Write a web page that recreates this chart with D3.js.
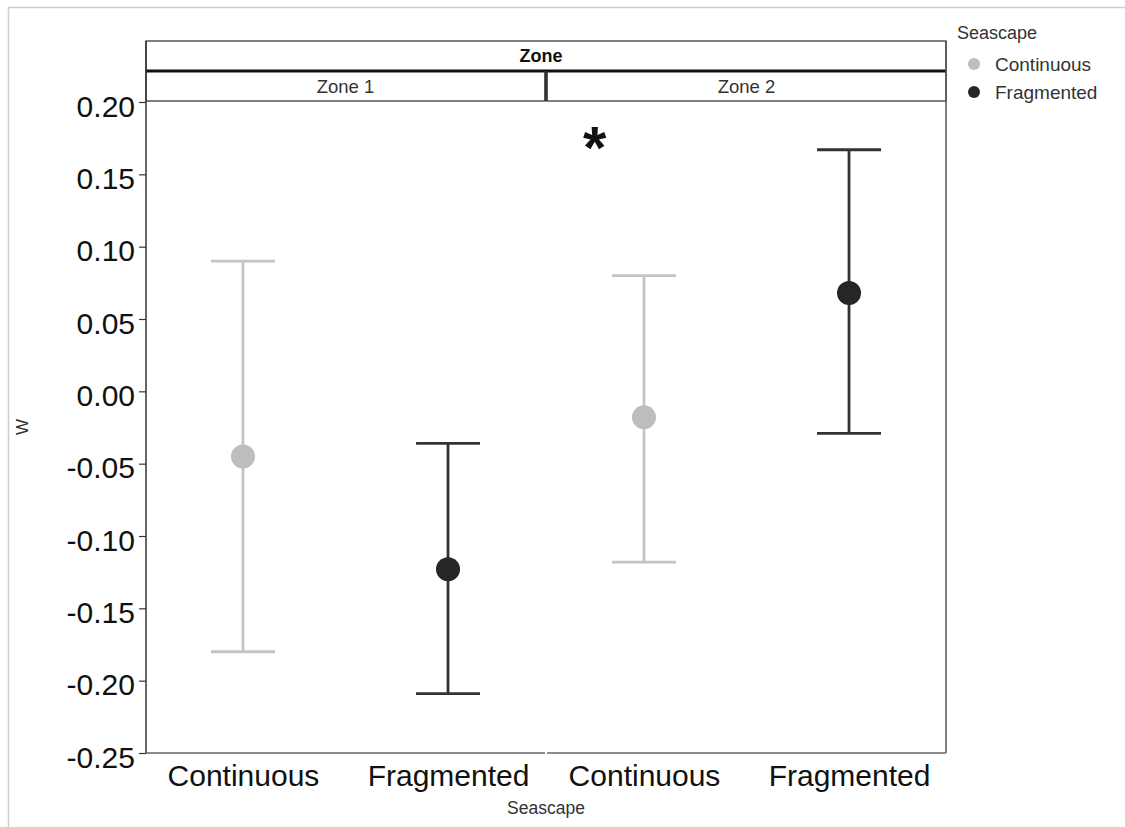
<!DOCTYPE html>
<html>
<head>
<meta charset="utf-8">
<script src="https://cdn.jsdelivr.net/npm/d3@7"></script>
<style>
  html, body { margin: 0; padding: 0; background: #fff; }
  svg { display: block; font-family: "Liberation Sans", Arial, sans-serif; }
</style>
</head>
<body>
<svg id="chart" width="1125" height="827"></svg>
<script>
// ---- data ----
const zones = ["Zone 1", "Zone 2"];
const categories = ["Continuous", "Fragmented"];
const meanValues = [-0.045, -0.123, -0.018, 0.068];   // Zone1 C, Zone1 F, Zone2 C, Zone2 F
const lowerValues = [-0.180, -0.209, -0.118, -0.029];
const upperValues = [0.090, -0.036, 0.080, 0.167];
const pointZones = ["Zone 1", "Zone 1", "Zone 2", "Zone 2"];
const pointCats = ["Continuous", "Fragmented", "Continuous", "Fragmented"];
const yTicks = [-0.25, -0.20, -0.15, -0.10, -0.05, 0.00, 0.05, 0.10, 0.15, 0.20];
const annotations = [{ zone: "Zone 2", pos: 0.76, value: 0.172, label: "*" }];

const colors = { "Continuous": "#bdbdbd", "Fragmented": "#262626" };
const lineColors = { "Continuous": "#c4c4c4", "Fragmented": "#333333" };

const points = meanValues.map((m, i) => ({
  zone: pointZones[i], cat: pointCats[i], mean: m, lo: lowerValues[i], hi: upperValues[i]
}));

// ---- layout ----
const svg = d3.select("#chart");
const plotLeft = 146, plotRight = 946, plotTop = 102, plotBottom = 753;
const stripTop = 41, stripMid = 71, stripBot = 101;

// outer frame
svg.append("rect").attr("x", 8.5).attr("y", 7.5).attr("width", 1130).attr("height", 830)
  .attr("fill", "none").attr("stroke", "#cfcfcf").attr("stroke-width", 1.5);

const y = d3.scaleLinear().domain([-0.25, 0.20]).range([plotBottom, plotTop]);
const panel = d3.scaleBand().domain(zones).range([plotLeft, plotRight]).paddingInner(2 / 800 * 2);
const pw = panel.bandwidth();
const pad = 0.473;
const x = d3.scalePoint().domain(categories).range([0, pw]).padding(pad);
const xLin = d3.scaleLinear().domain([1 - pad, 2 + pad]).range([0, pw]);

// strips
const g = svg.append("g");
g.append("rect").attr("x", plotLeft).attr("y", stripTop).attr("width", plotRight - plotLeft).attr("height", stripMid - stripTop)
  .attr("fill", "#fff").attr("stroke", "#555").attr("stroke-width", 1.5);
g.append("text").attr("x", (plotLeft + plotRight) / 2 - 5).attr("y", stripTop + 15).attr("dy", "0.35em")
  .attr("text-anchor", "middle").attr("font-size", 18).attr("font-weight", "bold").attr("fill", "#111").text("Zone");

zones.forEach(z => {
  const x0 = panel(z);
  g.append("rect").attr("x", x0).attr("y", stripMid).attr("width", pw).attr("height", stripBot - stripMid)
    .attr("fill", "#fff").attr("stroke", "#555").attr("stroke-width", 1.5);
  g.append("text").attr("x", x0 + pw / 2).attr("y", stripMid + 16).attr("dy", "0.35em")
    .attr("text-anchor", "middle").attr("font-size", 18.5).attr("fill", "#333").text(z);
});
// thick line under Zone strip
g.append("line").attr("x1", plotLeft).attr("x2", plotRight).attr("y1", stripMid).attr("y2", stripMid)
  .attr("stroke", "#111").attr("stroke-width", 3);
// separator between panels in strip
g.append("line").attr("x1", 546).attr("x2", 546).attr("y1", stripMid).attr("y2", stripBot)
  .attr("stroke", "#333").attr("stroke-width", 3);

// axes lines
g.append("line").attr("x1", plotLeft).attr("x2", plotLeft).attr("y1", stripTop).attr("y2", plotBottom)
  .attr("stroke", "#333").attr("stroke-width", 1.5);
g.append("line").attr("x1", plotRight).attr("x2", plotRight).attr("y1", stripTop).attr("y2", plotBottom)
  .attr("stroke", "#555").attr("stroke-width", 1.5);
zones.forEach(z => {
  g.append("line").attr("x1", panel(z)).attr("x2", panel(z) + pw).attr("y1", plotBottom).attr("y2", plotBottom)
    .attr("stroke", "#666").attr("stroke-width", 1.5);
});

// y axis
const yAxis = d3.axisLeft(y).tickValues(yTicks).tickSize(7).tickPadding(4)
  .tickFormat(d => (Math.abs(d) < 1e-9 ? 0 : d).toFixed(2));
const ya = svg.append("g").attr("transform", `translate(${plotLeft},0)`).call(yAxis);
ya.select(".domain").remove();
ya.selectAll(".tick line").attr("stroke", "#333").attr("stroke-width", 1.2);
ya.selectAll(".tick text").attr("font-size", 30).attr("fill", "#111").attr("dy", "0.47em")
  .attr("font-family", "'Liberation Sans', Arial, sans-serif");

// x tick labels
zones.forEach(z => {
  const xa = d3.axisBottom(x).tickSize(0).tickPadding(12);
  const gx = svg.append("g").attr("transform", `translate(${panel(z)},${plotBottom})`).call(xa);
  gx.select(".domain").remove();
  gx.selectAll(".tick text").attr("font-size", 30).attr("fill", "#111")
    .attr("font-family", "'Liberation Sans', Arial, sans-serif");
});

// axis titles
svg.append("text").attr("x", 546).attr("y", 814).attr("text-anchor", "middle")
  .attr("font-size", 17.5).attr("fill", "#333").text("Seascape");
svg.append("text").attr("transform", "translate(28,427) rotate(-90)").attr("text-anchor", "middle")
  .attr("font-size", 17).attr("fill", "#333").text("W");

// error bars and points
const cap = 32;
const marks = svg.append("g");
points.forEach(p => {
  const cx = panel(p.zone) + x(p.cat);
  const c = lineColors[p.cat];
  marks.append("line").attr("x1", cx).attr("x2", cx).attr("y1", y(p.hi)).attr("y2", y(p.lo))
    .attr("stroke", c).attr("stroke-width", 2.8);
  [p.hi, p.lo].forEach(v => {
    marks.append("line").attr("x1", cx - cap).attr("x2", cx + cap).attr("y1", y(v)).attr("y2", y(v))
      .attr("stroke", c).attr("stroke-width", 2.8);
  });
  marks.append("circle").attr("cx", cx).attr("cy", y(p.mean)).attr("r", 12).attr("fill", colors[p.cat]);
});

// annotation
annotations.forEach(a => {
  svg.append("text").attr("x", panel(a.zone) + xLin(a.pos)).attr("y", y(a.value) + 25)
    .attr("text-anchor", "middle").attr("font-size", 60).attr("font-weight", "bold").attr("fill", "#111")
    .text(a.label);
});

// legend
const lg = svg.append("g");
lg.append("text").attr("x", 957).attr("y", 39).attr("font-size", 18).attr("fill", "#333").text("Seascape");
categories.forEach((c, i) => {
  const cy = 64 + i * 28;
  lg.append("circle").attr("cx", 974).attr("cy", cy).attr("r", 6).attr("fill", colors[c]);
  lg.append("text").attr("x", 995).attr("y", cy).attr("dy", "0.36em").attr("font-size", 19)
    .attr("fill", "#333").text(c);
});
</script>
</body>
</html>
